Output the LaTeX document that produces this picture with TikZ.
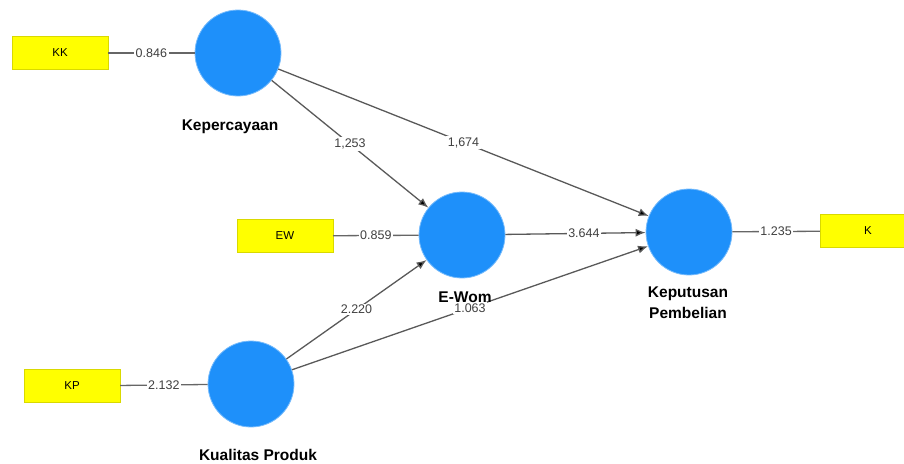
\documentclass[tikz,border=0pt]{standalone}
\usepackage{fontspec}
\setmainfont{Liberation Sans}
\usetikzlibrary{arrows.meta}
\definecolor{lvblue}{RGB}{30,144,250}
\definecolor{indyellow}{RGB}{255,255,0}

\begin{document}
\begin{tikzpicture}[x=1pt,y=-1pt,
	latent/.style={circle,minimum size=86pt,inner sep=0pt,fill=lvblue,draw=lvblue!60!white,line width=0.8pt},
	indicator/.style={rectangle,minimum width=96pt,minimum height=33pt,fill=indyellow,draw=indyellow!85!black,line width=0.3pt,font=\fontsize{11.5}{13}\selectfont},
	lvname/.style={font=\fontsize{15.5}{21}\selectfont\bfseries,align=center},
	loading/.style={draw=black!60,line width=1.3pt},
	structural/.style={draw=black!65,line width=1.3pt,-{Latex[length=10pt,width=8pt,fill=black]}},
	coef/.style={fill=white,inner sep=1.5pt,font=\fontsize{12.5}{14}\selectfont,text=black!75}]
				\useasboundingbox (0,0) rectangle (904,463);
				
				\node[latent] (kep) at (238,53) {};
				\node[latent] (ewom) at (462,235) {};
				\node[latent] (kualitas) at (251,384) {};
				\node[latent] (keputusan) at (689,232) {};
				
				\node[indicator] (kk) at (60,53) {KK};
				\node[indicator] (ew) at (285,236) {EW};
				\node[indicator] (kp) at (72,386) {KP};
				\node[indicator] (k) at (868,231) {K};
				
				\draw[loading] (kk) -- node[coef] {0.846} (kep);
				\draw[loading] (ew) -- node[coef] {0.859} (ewom);
				\draw[loading] (kp) -- node[coef] {2.132} (kualitas);
				\draw[loading] (keputusan) -- node[coef] {1.235} (k);
				
				\draw[structural] (kep) -- node[coef] {1,253} (ewom);
				\draw[structural] (kep) -- node[coef] {1,674} (keputusan);
				\draw[structural] (ewom) -- node[coef,pos=0.56] {3.644} (keputusan);
				\draw[structural] (kualitas) -- node[coef] {2.220} (ewom);
				\draw[structural] (kualitas) -- node[coef] {1.063} (keputusan);
				
				\node[lvname] (kepname) at (230,127) {Kepercayaan};
				\node[lvname] (ewomname) at (465,297) {E-Wom};
				\node[lvname] (kualitasname) at (258,455) {Kualitas Produk};
				\node[lvname] (keputusanname) at (688,303) {Keputusan\\Pembelian};
\end{tikzpicture}
\end{document}
